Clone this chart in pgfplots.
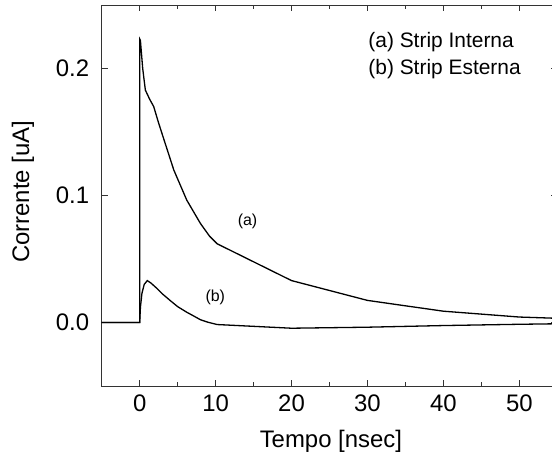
\documentclass[border=0pt]{standalone}
\usepackage{pgfplots}
\pgfplotsset{compat=1.18}
\usepackage{fontspec}
\setmainfont{Liberation Sans}
\usetikzlibrary{calc}
\begin{document}
\begin{tikzpicture}
\begin{axis}[
  name=ax,
  scale only axis,
  width=455.6bp, height=381bp,
  xmin=-5, xmax=55, ymin=-0.05, ymax=0.25,
  xtick={0,10,20,30,40,50},
  minor xtick={-5,5,15,25,35,45,55},
  ytick={0,0.1,0.2},
  yticklabels={0.0,0.1,0.2},
  tick align=inside,
  major tick length=6bp,
  minor tick length=4bp,
  axis line style={line width=0.9bp, black!80},
  every tick/.style={line width=0.8bp, black!80},
  /pgf/number format/assume math mode=true,
  tick label style={font=\fontsize{24}{28}\selectfont},
  xticklabel style={yshift=-5bp},
  yticklabel style={xshift=-9bp},
  xlabel={Tempo [nsec]},
  ylabel={Corrente [uA]},
  label style={font=\fontsize{24}{28}\selectfont},
  xlabel style={at={(axis description cs:0.503,-0.144)}, anchor=center},
  ylabel style={at={(axis description cs:-0.1727,0.51)}, anchor=center},
  clip=true,
]
% (a) Strip Interna
\addplot[black, line width=1.3bp] coordinates {
(-5,0) (0,0) (0.02,0.223) (0.1,0.222) (0.4,0.200) (0.75,0.183) (1.3,0.176) (1.85,0.170)
(2.5,0.157) (3.2,0.144) (4.5,0.120) (6.2,0.0964) (8.0,0.078) (9.2,0.068) (10.2,0.062)
(20,0.033) (30,0.0174) (40,0.0089) (50,0.0043) (55,0.0033)
};
% (b) Strip Esterna
\addplot[black, line width=1.3bp] coordinates {
(-5,0) (0,0) (0.1,0.012) (0.3,0.023) (0.6,0.030) (1.0,0.033) (1.5,0.031) (2.3,0.0267)
(3,0.0225) (4,0.0174) (5,0.0125) (6.2,0.0081) (7,0.0055) (8,0.0022) (9,0.0002) (10.2,-0.0016)
(20,-0.0045) (30,-0.0037) (40,-0.0024) (50,-0.0014) (55,-0.001)
};
\node[font=\fontsize{16}{19}\selectfont] at (axis cs:14.2,0.0793) {(a)};
\node[font=\fontsize{16}{19}\selectfont] at (axis cs:9.96,0.020) {(b)};
\node[font=\fontsize{21}{25}\selectfont, anchor=base west, inner sep=0pt] at (axis cs:30.1,0.2168) {(a) Strip Interna};
\node[font=\fontsize{21}{25}\selectfont, anchor=base west, inner sep=0pt] at (axis cs:30.1,0.1953) {(b) Strip Esterna};
\end{axis}
\pgfresetboundingbox
\path[use as bounding box] ($(ax.south west)+(-101.7bp,-77bp)$) rectangle ($(ax.north east)+(-5.3bp,5bp)$);
\end{tikzpicture}
\end{document}
